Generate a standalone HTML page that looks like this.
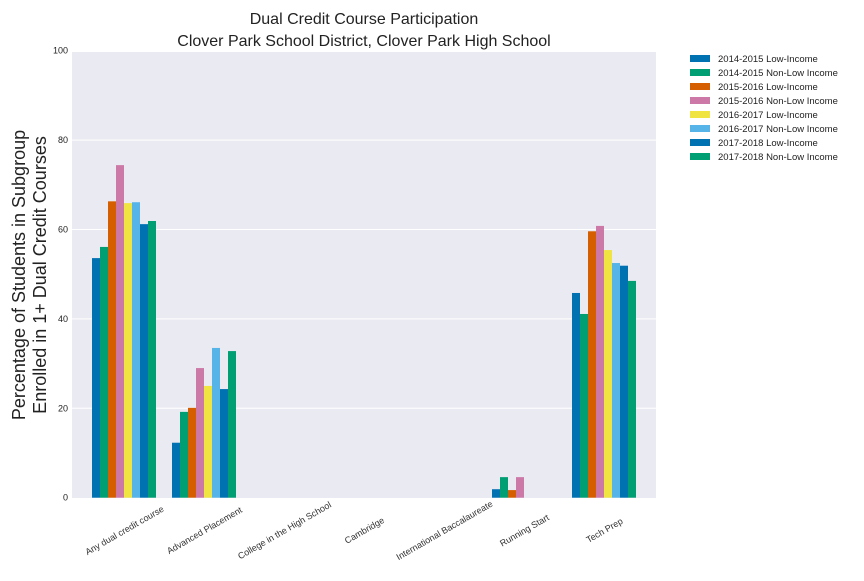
<!DOCTYPE html>
<html><head><meta charset="utf-8"><style>
body{margin:0;background:#fff;font-family:"Liberation Sans",sans-serif}
svg text{font-family:"Liberation Sans",sans-serif}
</style></head><body>
<svg id="chart" width="864" height="576" xmlns="http://www.w3.org/2000/svg">
<text x="364" y="24" font-size="16" text-anchor="middle" fill="#222">Dual Credit Course Participation</text>
<text x="364" y="46" font-size="16" text-anchor="middle" fill="#222">Clover Park School District, Clover Park High School</text>
<rect x="72" y="52" width="584" height="446" fill="#eaeaf2"/>
<g id="grid"></g><g id="bars"></g><g id="xlabels"></g><g id="ylabels"></g><g id="legend"></g>
<text transform="translate(25,275) rotate(-90)" font-size="18" text-anchor="middle" fill="#222"><tspan x="0" dy="0">Percentage of Students in Subgroup</tspan><tspan x="0" dy="21">Enrolled in 1+ Dual Credit Courses</tspan></text>
</svg>
<script>
const categories=["Any dual credit course","Advanced Placement","College in the High School","Cambridge","International Baccalaureate","Running Start","Tech Prep"];
const seriesNames=["2014-2015 Low-Income","2014-2015 Non-Low Income","2015-2016 Low-Income","2015-2016 Non-Low Income","2016-2017 Low-Income","2016-2017 Non-Low Income","2017-2018 Low-Income","2017-2018 Non-Low Income"];
const s1415L=[53.6,12.3,0,0,0,1.9,45.8];
const s1415N=[56.1,19.2,0,0,0,4.6,41.1];
const s1516L=[66.3,20.1,0,0,0,1.7,59.6];
const s1516N=[74.4,29.0,0,0,0,4.6,60.8];
const s1617L=[65.9,25.0,0,0,0,0,55.4];
const s1617N=[66.1,33.5,0,0,0,0,52.5];
const s1718L=[61.2,24.3,0,0,0,0,51.9];
const s1718N=[61.9,32.8,0,0,0,0,48.5];
const yTicks=[0,20,40,60,80,100];
const series=[s1415L,s1415N,s1516L,s1516N,s1617L,s1617N,s1718L,s1718N];
const colors=["#0072b2","#009e73","#d55e00","#cc79a7","#f0e442","#56b4e9","#0072b2","#009e73"];
const NS="http://www.w3.org/2000/svg";
const y=v=>497.7-v*4.47;
const xc=i=>124+80*i;
function mk(tag,attrs,parent,text){const e=document.createElementNS(NS,tag);for(const k in attrs)e.setAttribute(k,attrs[k]);if(text!==undefined)e.textContent=text;document.getElementById(parent).appendChild(e);return e;}
yTicks.forEach(t=>{
 if(t>0&&t<100){const l=mk('line',{x1:72,x2:656,y1:y(t),y2:y(t),stroke:'#fff','stroke-width':1},'grid');
 
 }
 const tx=mk('text',{x:68,y:y(t)+3,'font-size':9,'text-anchor':'end',fill:'#222'},'ylabels',String(t));
 
 
});
series.forEach((s,j)=>{s.forEach((v,i)=>{
 if(v<=0)return;
 const r=mk('rect',{x:xc(i)-32+8*j,y:y(v),width:8,height:y(0)-y(v),fill:colors[j]},'bars');
 
 
});});
categories.forEach((c,i)=>{
 const t=mk('text',{transform:`translate(${xc(i)+2},${533}) rotate(-30)`,'font-size':9,'text-anchor':'middle',fill:'#333'},'xlabels',c);
 
 
});
seriesNames.forEach((n,j)=>{
 const r=mk('rect',{x:690,y:55+14*j,width:20,height:7,fill:colors[j]},'legend');
 
 
 const t=mk('text',{x:718,y:62+14*j,'font-size':9.5,fill:'#222'},'legend',n);
 
 
});
</script>
</body></html>
